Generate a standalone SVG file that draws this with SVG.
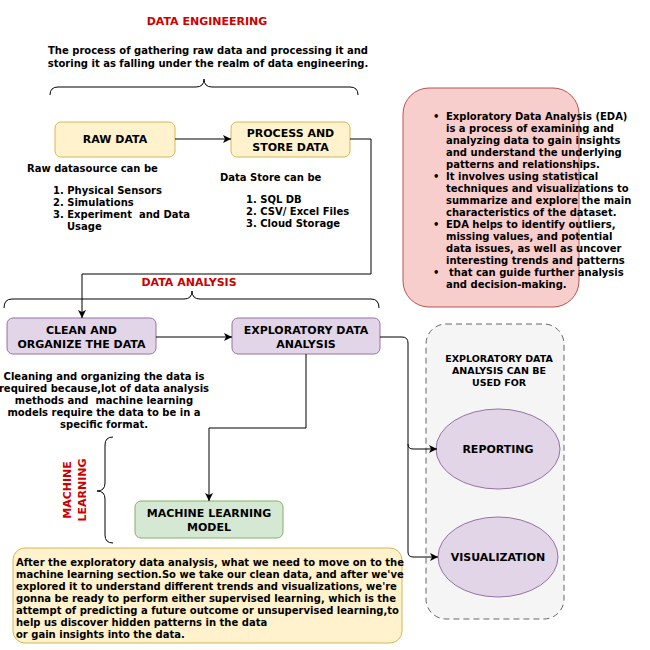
<svg xmlns="http://www.w3.org/2000/svg" width="650" height="650" viewBox="0 0 650 650">
<defs>
<style>
text{font-family:"DejaVu Sans",Verdana,"Liberation Sans",sans-serif;font-weight:bold;fill:#000;}
.t{font-size:10px;}
.lbl{font-size:11px;text-anchor:middle;}
.red{fill:#CC0000;font-size:11px;text-anchor:middle;}
.yel{fill:#fff2cc;stroke:#d6b656;stroke-width:1;}
.pur{fill:#e1d5e7;stroke:#9673a6;stroke-width:1;}
.grn{fill:#d5e8d4;stroke:#82b366;stroke-width:1;}
.brace{fill:none;stroke:#000;stroke-width:1;}
.conn{fill:none;stroke:#000;stroke-width:1;}
</style>
<marker id="arr" viewBox="0 0 10 10" refX="10" refY="5" markerWidth="8" markerHeight="8" markerUnits="userSpaceOnUse" orient="auto">
<path d="M0,0 L10,5 L0,10 L2.5,5 Z" fill="#000"/>
</marker>
</defs>
<rect width="650" height="650" fill="#fff"/>

<g id="title-de"><text class="red" x="207" y="25">DATA ENGINEERING</text></g>
<g id="de-desc">
<text class="t" x="208" y="54" text-anchor="middle">The process of gathering raw data and processing it and</text>
<text class="t" x="208" y="67" text-anchor="middle">storing it as falling under the realm of data engineering.</text>
</g>
<g id="brace-de"><path class="brace" d="M50,95 Q50,87 58,87 L196,87 Q204,87 204,79 Q204,87 212,87 L350,87 Q358,87 358,95"/></g>

<g id="raw-data"><rect class="yel" x="55" y="122" width="120" height="35" rx="6"/><text class="lbl" x="115" y="143">RAW DATA</text></g>
<g id="process-store"><rect class="yel" x="231" y="122" width="119" height="35" rx="6"/><text class="lbl" x="290.5" y="137">PROCESS AND</text><text class="lbl" x="290.5" y="151">STORE DATA</text></g>

<g id="raw-desc">
<text class="t" x="27" y="172">Raw datasource can be</text>
<text class="t" x="53" y="194">1. Physical Sensors</text>
<text class="t" x="53" y="206">2. Simulations</text>
<text class="t" x="53" y="218" xml:space="preserve">3. Experiment  and Data</text>
<text class="t" x="67" y="230">Usage</text>
</g>
<g id="store-desc">
<text class="t" x="220" y="181">Data Store can be</text>
<text class="t" x="246" y="203">1. SQL DB</text>
<text class="t" x="246" y="215">2. CSV/ Excel Files</text>
<text class="t" x="246" y="227">3. Cloud Storage</text>
</g>

<g id="eda-info">
<rect x="403" y="88" width="176" height="219" rx="26" fill="#f8cecc" stroke="#b85450"/>
<text class="t" x="433" y="120">•</text><text class="t" x="446" y="120">Exploratory Data Analysis (EDA)</text>
<text class="t" x="446" y="132">is a process of examining and</text>
<text class="t" x="446" y="144">analyzing data to gain insights</text>
<text class="t" x="446" y="156">and understand the underlying</text>
<text class="t" x="446" y="168">patterns and relationships.</text>
<text class="t" x="433" y="180">•</text><text class="t" x="446" y="180">It involves using statistical</text>
<text class="t" x="446" y="192">techniques and visualizations to</text>
<text class="t" x="446" y="204">summarize and explore the main</text>
<text class="t" x="446" y="216">characteristics of the dataset.</text>
<text class="t" x="433" y="228">•</text><text class="t" x="446" y="228">EDA helps to identify outliers,</text>
<text class="t" x="446" y="240">missing values, and potential</text>
<text class="t" x="446" y="252">data issues, as well as uncover</text>
<text class="t" x="446" y="264">interesting trends and patterns</text>
<text class="t" x="433" y="276">•</text><text class="t" x="449" y="276">that can guide further analysis</text>
<text class="t" x="446" y="288">and decision-making.</text>
</g>

<g id="title-da"><text class="red" x="189" y="286">DATA ANALYSIS</text></g>
<g id="brace-da"><path class="brace" d="M4,308 Q4,299 12,299 L184,299 Q192,299 192,291 Q192,299 200,299 L371,299 Q379,299 379,308"/></g>

<g id="clean"><rect class="pur" x="7" y="318" width="149" height="36" rx="6"/><text class="lbl" x="81.5" y="334">CLEAN AND</text><text class="lbl" x="81.5" y="348">ORGANIZE THE DATA</text></g>
<g id="eda"><rect class="pur" x="232" y="318" width="148" height="36" rx="6"/><text class="lbl" x="306" y="334">EXPLORATORY DATA</text><text class="lbl" x="306" y="348">ANALYSIS</text></g>

<g id="clean-desc">
<text class="t" x="104" y="380" text-anchor="middle">Cleaning and organizing the data is</text>
<text class="t" x="104" y="392" text-anchor="middle">required because,lot of data analysis</text>
<text class="t" x="104" y="404" text-anchor="middle" xml:space="preserve">methods and  machine learning</text>
<text class="t" x="104" y="416" text-anchor="middle">models require the data to be in a</text>
<text class="t" x="104" y="428" text-anchor="middle">specific format.</text>
</g>

<g id="eda-uses">
<rect x="426" y="324" width="138" height="295" rx="20" fill="#f5f5f5" stroke="#666" stroke-dasharray="6,4"/>
<text x="499" y="362" font-size="9.5" text-anchor="middle">EXPLORATORY DATA</text>
<text x="499" y="374" font-size="9.5" text-anchor="middle">ANALYSIS CAN BE</text>
<text x="499" y="386" font-size="9.5" text-anchor="middle">USED FOR</text>
</g>
<g id="reporting"><ellipse class="pur" cx="498" cy="449" rx="62" ry="40"/><text class="lbl" x="498" y="453">REPORTING</text></g>
<g id="visualization"><ellipse class="pur" cx="498" cy="557" rx="60" ry="40"/><text class="lbl" x="498" y="561">VISUALIZATION</text></g>

<g id="title-ml"><text class="red" transform="translate(71,490) rotate(-90)">MACHINE</text><text class="red" transform="translate(86,490) rotate(-90)">LEARNING</text></g>
<g id="brace-ml"><path class="brace" d="M113,437 Q105,437 105,445 L105,483 Q105,491 97,491 Q105,491 105,499 L105,535 Q105,543 113,543"/></g>

<g id="ml-model"><rect class="grn" x="135" y="501" width="148" height="37" rx="6"/><text class="lbl" x="209" y="517">MACHINE LEARNING</text><text class="lbl" x="209" y="531">MODEL</text></g>

<g id="ml-desc">
<rect class="yel" x="13" y="548" width="389" height="95" rx="12"/>
<text class="t" x="16" y="566">After the exploratory data analysis, what we need to move on to the</text>
<text class="t" x="16" y="578">machine learning section.So we take our clean data, and after we've</text>
<text class="t" x="16" y="590">explored it to understand different trends and visualizations, we're</text>
<text class="t" x="16" y="602">gonna be ready to perform either supervised learning, which is the</text>
<text class="t" x="16" y="614">attempt of predicting a future outcome or unsupervised learning,to</text>
<text class="t" x="16" y="626">help us discover hidden patterns in the data</text>
<text class="t" x="16" y="638">or gain insights into the data.</text>
</g>

<g id="connectors">
<path class="conn" d="M175,139 L231,139" marker-end="url(#arr)"/>
<path class="conn" d="M350,139 L371,139 L371,274 L82,274 L82,318" marker-end="url(#arr)"/>
<path class="conn" d="M156,337 L232,337" marker-end="url(#arr)"/>
<path class="conn" stroke="#333" d="M306,354 L306,428 L209,428 L209,501" marker-end="url(#arr)"/>
<path class="conn" d="M380,337 L402,337 Q408,337 408,343 L408,444 Q408,449 413,449 L437,449" marker-end="url(#arr)"/>
<path class="conn" d="M408,444 L408,552 Q408,557 413,557 L438,557" marker-end="url(#arr)"/>
</g>
</svg>
